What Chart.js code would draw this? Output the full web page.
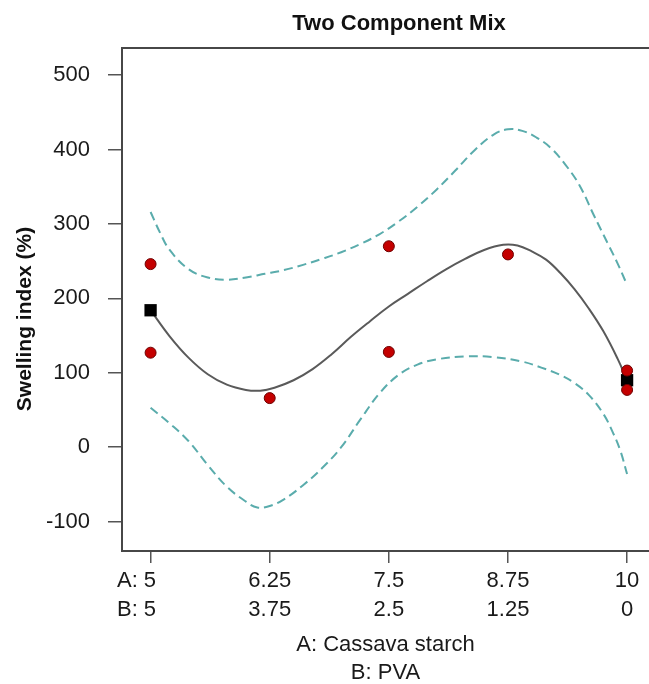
<!DOCTYPE html>
<html>
<head>
<meta charset="utf-8">
<script src="https://cdn.jsdelivr.net/npm/chart.js@4"></script>
<style>
  html, body { margin: 0; padding: 0; background: #fff; }
  #wrap { width: 649px; height: 684px; position: relative; }
</style>
</head>
<body>
<div id="wrap"><canvas id="mixChart"></canvas></div>
<script>
// Mixture axis: component A (Cassava starch) and B (PVA)
const mixA = [5, 6.25, 7.5, 8.75, 10];
const mixB = [5, 3.75, 2.5, 1.25, 0];

// Design points (red circles)
const obsA = [5, 5, 6.25, 7.5, 7.5, 8.75, 10, 10];
const obsSwelling = [246, 127, 66, 270, 128, 259, 103, 77];

// Replicate markers (black squares)
const repA = [5, 10];
const repSwelling = [184, 90];

// Fitted model curve
const fitA = [5, 5.2, 5.4, 5.6, 5.8, 6.0, 6.15, 6.3, 6.5, 6.7, 6.9, 7.1, 7.3, 7.5, 7.7, 7.9, 8.1, 8.3, 8.5, 8.7, 8.85, 9.0, 9.15, 9.3, 9.45, 9.6, 9.75, 9.9, 10];
const fitSwelling = [184, 149, 120, 98, 84, 77, 76, 80, 90, 105, 125, 148, 169, 189, 206, 223, 239, 253, 265, 272, 271, 263, 252, 234, 212, 186, 156, 119, 90];

// 95% confidence band
const upperA = [5, 5.1, 5.2, 5.4, 5.6, 5.8, 6.0, 6.2, 6.4, 6.6, 6.8, 7.0, 7.2, 7.4, 7.6, 7.8, 8.0, 8.2, 8.4, 8.6, 8.75, 8.9, 9.05, 9.2, 9.35, 9.5, 9.65, 9.8, 9.9, 10];
const upperSwelling = [316, 288, 265, 239, 228, 225, 228, 233, 238, 245, 253, 262, 273, 286, 303, 323, 346, 372, 399, 420, 427, 425, 416, 402, 380, 352, 312, 273, 247, 218];
const lowerA = [5, 5.2, 5.4, 5.6, 5.8, 6.0, 6.12, 6.25, 6.4, 6.6, 6.8, 7.0, 7.2, 7.4, 7.6, 7.8, 8.0, 8.3, 8.6, 8.9, 9.1, 9.3, 9.45, 9.6, 9.75, 9.85, 9.93, 10];
const lowerSwelling = [53, 32, 8, -24, -53, -73, -81, -79, -70, -51, -28, 0, 37, 72, 97, 111, 118, 122, 121, 115, 107, 97, 86, 70, 45, 20, -5, -36];

const yTicks = [-100, 0, 100, 200, 300, 400, 500];

const toPoints = (xs, ys) => xs.map((x, i) => ({ x: x, y: ys[i] }));

const FONT = "'Liberation Sans', Arial, sans-serif";
const bandColor = '#5aacac';

// Draws the chart title and the rotated y-axis title
const titlesPlugin = {
    id: 'titles',
    afterDraw(chart) {
        const ctx = chart.ctx;
        ctx.save();
        ctx.fillStyle = '#111';
        ctx.textAlign = 'center';
        ctx.textBaseline = 'alphabetic';
        ctx.font = 'bold 22px ' + FONT;
        ctx.fillText('Two Component Mix', 399, 30);
        ctx.translate(31, 319);
        ctx.rotate(-Math.PI / 2);
        ctx.font = 'bold 21px ' + FONT;
        ctx.fillText('Swelling index (%)', 0, 0);
        ctx.restore();
    }
};

new Chart(document.getElementById('mixChart').getContext('2d'), {
    type: 'scatter',
    data: {
        datasets: [
            {
                label: 'Design points',
                data: toPoints(obsA, obsSwelling),
                pointStyle: 'circle',
                pointRadius: 5.5,
                backgroundColor: '#c40000',
                borderColor: '#6e0000',
                borderWidth: 1,
                order: 0
            },
            {
                label: 'Replicates',
                data: toPoints(repA, repSwelling),
                pointStyle: 'rect',
                pointRadius: 8.7,
                backgroundColor: '#000',
                borderColor: '#000',
                borderWidth: 0,
                order: 1
            },
            {
                label: 'Fit',
                data: toPoints(fitA, fitSwelling),
                showLine: true,
                pointRadius: 0,
                borderColor: '#5a5a5a',
                borderWidth: 2,
                tension: 0.4,
                order: 2
            },
            {
                label: 'Upper 95% CI',
                data: toPoints(upperA, upperSwelling),
                showLine: true,
                pointRadius: 0,
                borderColor: bandColor,
                borderWidth: 2,
                borderDash: [9, 5],
                tension: 0.4,
                order: 3
            },
            {
                label: 'Lower 95% CI',
                data: toPoints(lowerA, lowerSwelling),
                showLine: true,
                pointRadius: 0,
                borderColor: bandColor,
                borderWidth: 2,
                borderDash: [9, 5],
                tension: 0.4,
                order: 3
            }
        ]
    },
    options: {
        responsive: true,
        maintainAspectRatio: false,
        animation: false,
        layout: { autoPadding: false, padding: { top: 48, left: 0, right: 0, bottom: 0 } },
        plugins: {
            legend: { display: false },
            title: { display: false },
            tooltip: { enabled: false }
        },
        scales: {
            x: {
                type: 'linear',
                position: 'bottom',
                min: 4.7,
                max: 10.23,
                afterFit: (s) => { s.height = 133; },
                border: { display: true, color: '#474747', width: 2 },
                grid: { display: true, drawOnChartArea: false, drawTicks: true, tickLength: 12, color: '#555', lineWidth: 1.5 },
                ticks: {
                    stepSize: 1.25,
                    includeBounds: false,
                    autoSkip: false,
                    maxRotation: 0,
                    padding: 3,
                    color: '#1a1a1a',
                    font: { family: FONT, size: 22, lineHeight: 1.33 },
                    callback: (v) => {
                        const i = mixA.indexOf(v);
                        if (i < 0) return '';
                        if (i === 0) return ['A: ' + mixA[i] + '\u2002\u2002 ', 'B: ' + mixB[i] + '\u2002\u2002 '];
                        return [String(mixA[i]), String(mixB[i])];
                    }
                },
                title: {
                    display: true,
                    text: ['A: Cassava starch', 'B: PVA'],
                    color: '#1a1a1a',
                    font: { family: FONT, size: 22, lineHeight: 1.27 },
                    padding: { top: 0, bottom: -3 }
                }
            },
            xTop: {
                type: 'linear',
                position: 'top',
                min: 4.7,
                max: 10.23,
                afterFit: (s) => { s.height = 0; },
                border: { display: true, color: '#474747', width: 2 },
                grid: { display: false },
                ticks: { display: false }
            },
            y: {
                type: 'linear',
                min: -139.4,
                max: 536.3,
                afterFit: (s) => { s.width = 122; },
                border: { display: true, color: '#474747', width: 2 },
                grid: { display: true, drawOnChartArea: false, drawTicks: true, tickLength: 14, color: '#555', lineWidth: 1.5 },
                ticks: {
                    stepSize: 100,
                    includeBounds: false,
                    padding: 18,
                    color: '#1a1a1a',
                    font: { family: FONT, size: 22 },
                    callback: (v) => (yTicks.includes(v) ? String(v) : '')
                }
            }
        }
    },
    plugins: [titlesPlugin]
});
</script>
</body>
</html>
